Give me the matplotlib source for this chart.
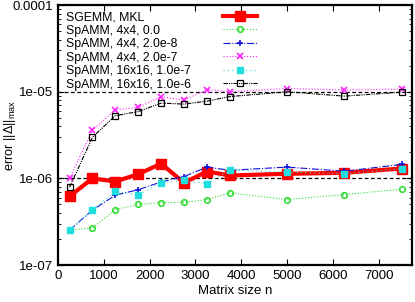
import matplotlib
matplotlib.use('Agg')
import matplotlib.pyplot as plt
from matplotlib.lines import Line2D

plt.rcParams['font.family'] = ['Liberation Sans', 'DejaVu Sans']
plt.rcParams['mathtext.fontset'] = 'custom'
plt.rcParams['mathtext.rm'] = 'Liberation Sans'

# matrix sizes
n = [250, 750, 1250, 1750, 2250, 2750, 3250, 3750, 5000, 6250, 7500]

# max error for each run
sgemm = [6.2e-7, 1.0e-6, 0.92e-6, 1.12e-6, 1.48e-6, 0.89e-6, 1.2e-6, 1.08e-6, 1.13e-6, 1.16e-6, 1.3e-6]
spamm_4_0 = [2.53e-7, 2.66e-7, 4.37e-7, 5.0e-7, 5.25e-7, 5.3e-7, 5.7e-7, 6.8e-7, 5.7e-7, 6.5e-7, 7.5e-7]
spamm_4_2e8 = [2.53e-7, 4.3e-7, 6.4e-7, 7.4e-7, 9.1e-7, 1.05e-6, 1.35e-6, 1.24e-6, 1.35e-6, 1.21e-6, 1.45e-6]
spamm_4_2e7 = [1.0e-6, 3.6e-6, 6.2e-6, 6.6e-6, 8.8e-6, 8.0e-6, 1.06e-5, 1.0e-5, 1.09e-5, 1.05e-5, 1.07e-5]
spamm_16_1e7 = [2.53e-7, 4.3e-7, 7.1e-7, 6.4e-7, 8.9e-7, 9.5e-7, 8.7e-7, 1.26e-6, 1.18e-6, 1.13e-6, 1.29e-6]
spamm_16_1e6 = [7.9e-7, 2.98e-6, 5.3e-6, 5.9e-6, 7.4e-6, 7.2e-6, 7.8e-6, 8.8e-6, 1.0e-5, 8.9e-6, 9.9e-6]

labels = ['SGEMM, MKL', 'SpAMM, 4x4, 0.0', 'SpAMM, 4x4, 2.0e-8',
          'SpAMM, 4x4, 2.0e-7', 'SpAMM, 16x16, 1.0e-7', 'SpAMM, 16x16, 1.0e-6']

fig = plt.figure(figsize=(4.15, 3.02), dpi=100)
ax = fig.add_axes([0.140, 0.1225, 0.853, 0.8605])

ax.axhline(1e-5, color='black', ls='--', lw=0.9, dashes=(3, 2), zorder=1)
ax.axhline(1e-6, color='black', ls='--', lw=0.9, dashes=(3, 2), zorder=1)

lines = []
lines += ax.plot(n, sgemm, color='red', lw=3.0, marker='s', ms=6.5, zorder=3)
lines += ax.plot(n, spamm_4_0, color='#33dd33', lw=0.8, ls=':', marker='o', ms=4,
                 mfc='none', mew=1.2, zorder=4)
lines += ax.plot(n, spamm_4_2e8, color='#1111dd', lw=0.8, ls='-.', marker='+', ms=5,
                 mew=1.2, zorder=4)
lines += ax.plot(n, spamm_4_2e7, color='#ff22ff', lw=0.8, ls=':', marker='x', ms=4,
                 mew=1.2, zorder=4)
lines += ax.plot(n, spamm_16_1e7, color='#22dddd', lw=0.8, ls=(0, (1, 3)), marker='s', ms=4,
                 zorder=4)
lines += ax.plot(n, spamm_16_1e6, color='black', lw=0.8, ls=(0, (4, 1, 1, 1, 1, 1)), marker='s',
                 ms=4, mfc='none', mew=0.9, zorder=4)

ax.set_yscale('log')
ax.set_ylim(1e-7, 1e-4)
ax.set_xlim(0, 7730)
ax.set_xticks([0, 1000, 2000, 3000, 4000, 5000, 6000, 7000])
ax.set_yticks([1e-7, 1e-6, 1e-5, 1e-4])
ax.set_yticklabels(['1e-07', '1e-06', '1e-05', '0.0001'])
ax.tick_params(which='both', direction='in', top=True, right=True, labelsize=9.5)
ax.tick_params(which='major', length=4)
ax.tick_params(which='minor', length=2)
for s in ax.spines.values():
    s.set_linewidth(1.6)

ax.set_xlabel('Matrix size n', fontsize=9.5, labelpad=2)
ax.set_ylabel('error ||Δ||$_{\\mathrm{max}}$', fontsize=9.2)
ax.yaxis.set_label_coords(-0.112, 0.5)

# legend: text column on the left, line samples on the right
fs = 8.8
blank = [Line2D([], [], ls='none') for _ in labels]
leg1 = ax.legend(blank, labels, loc='upper left', bbox_to_anchor=(0.006, 1.0),
                 frameon=False, fontsize=fs, handlelength=0, handletextpad=0,
                 labelspacing=0.12, borderaxespad=0.1)
ax.add_artist(leg1)
ax.legend(lines, [' '] * len(lines), loc='upper left', bbox_to_anchor=(0.449, 1.0),
          frameon=False, fontsize=fs, handlelength=2.8, handletextpad=0,
          labelspacing=0.12, borderaxespad=0.1)

fig.savefig('out.png', dpi=100)
